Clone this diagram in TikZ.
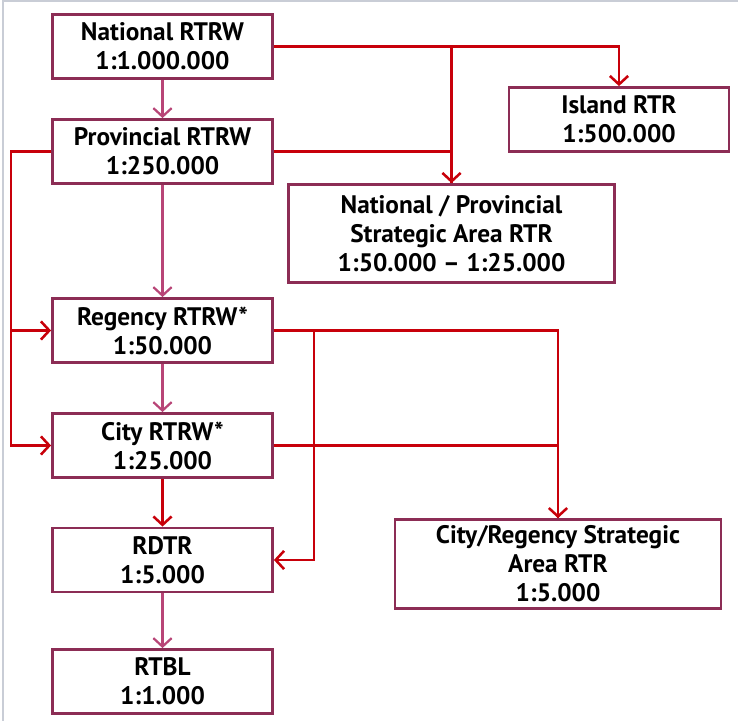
\documentclass[tikz,border=0pt]{standalone}
\usepackage{fontspec}
\setmainfont{PT Sans}
\usetikzlibrary{arrows.meta,calc,positioning}
\definecolor{PlanFrame}{HTML}{8C2D55}
\definecolor{PlanPink}{HTML}{B84577}
\definecolor{PlanRed}{HTML}{C8000A}
\definecolor{PlanGrey}{HTML}{C9CDD6}

\begin{document}
\begin{tikzpicture}[x=0.025cm,y=-0.025cm,
    planbox/.style={draw=PlanFrame,line width=2pt,fill=white,
      align=center,inner sep=0pt,
      font=\bfseries\fontsize{18}{20.6}\selectfont},
    mainbox/.style={planbox,minimum width=5.5cm,minimum height=1.6cm},
    pinklink/.style={PlanPink,line width=1.6pt,
      -{Straight Barb[length=6pt,width=13pt,line width=1.6pt]}},
    redline/.style={PlanRed,line width=1.8pt},
    redlink/.style={redline,
      -{Straight Barb[length=6pt,width=13pt,line width=1.8pt]}}]
        \useasboundingbox (0,0) rectangle (738,721);
        \draw[PlanGrey,line width=1pt] (3,721) -- (3,1) -- (738,1);

        % left column
        \node[mainbox] (nat) at (162.5,46.5) {National RTRW\\1:1.000.000};
        \node[mainbox] (prov) at (162.5,151.5) {Provincial RTRW\\1:250.000};
        \node[mainbox] (reg) at (162.5,330.5) {Regency RTRW*\\1:50.000};
        \node[mainbox] (city) at (162.5,445.5) {City RTRW*\\1:25.000};
        \node[mainbox] (rdtr) at (162.5,560) {RDTR\\1:5.000};
        \node[mainbox] (rtbl) at (162.5,681.5) {RTBL\\1:1.000};

        % right side
        \node[mainbox] (island) at (619,119.5) {Island RTR\\1:500.000};
        \node[planbox,minimum width=8.15cm,minimum height=2.45cm] (npsa)
          at (451.5,233.5)
          {National / Provincial\\Strategic Area RTR\\1:50.000 – 1:25.000};
        \node[planbox,minimum width=8.15cm,minimum height=2.22cm] (crsa)
          at (558,564)
          {City/Regency Strategic\\Area RTR\\1:5.000};

        % hierarchy
        \draw[pinklink] (nat) -- (prov);
        \draw[pinklink] (prov) -- (reg);
        \draw[pinklink] (reg) -- (city);
        \draw[redlink] (city) -- (rdtr);
        \draw[pinklink] (rdtr) -- (rtbl);

        % national / provincial branches
        \draw[redlink] (nat.east) -| (island.north);
        \draw[redlink] (nat.east -| npsa.north) -- (npsa.north);
        \draw[redline] (prov.east) -| (npsa.north);
        \draw[redlink] (prov.west) -- ++(-40,0) |- (reg.west);
        \draw[redlink] (prov.west) -- ++(-40,0) |- (city.west);

        % regency / city branches
        \draw[redlink] (reg.east) -| (crsa.north);
        \draw[redline] (city.east) -| (crsa.north);
        \draw[redlink] (reg.east) -- ++(40,0) |- (rdtr.east);
\end{tikzpicture}
\end{document}
